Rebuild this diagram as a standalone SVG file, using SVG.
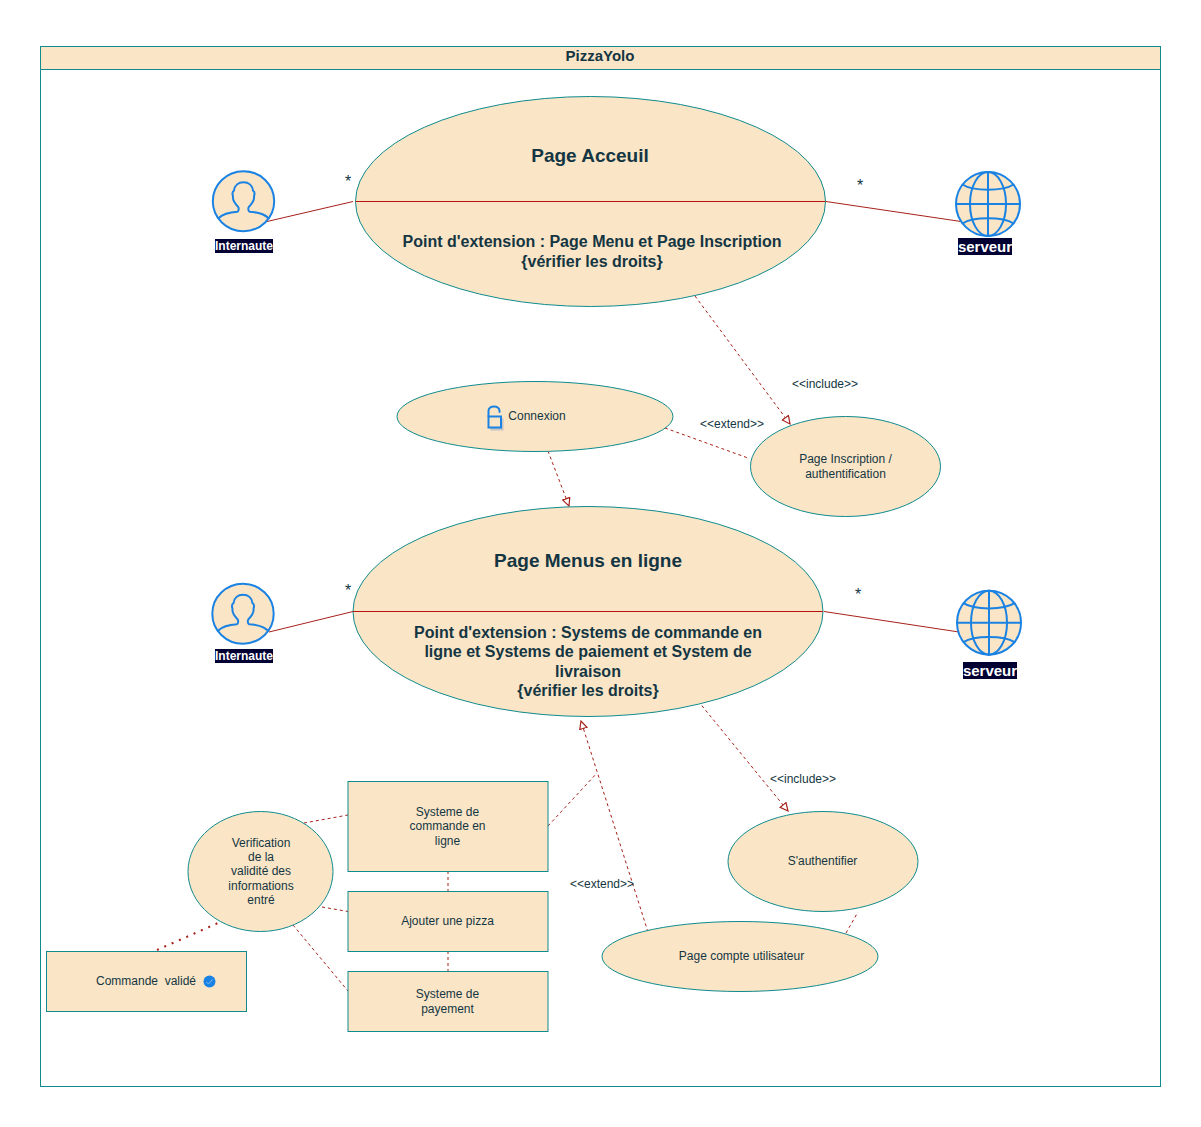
<svg xmlns="http://www.w3.org/2000/svg" width="1201" height="1127" viewBox="0 0 1201 1127">
<style>
text{font-family:"Liberation Sans",Arial,sans-serif;fill:#143642;text-anchor:middle}
.s{fill:#fae5c7;stroke:#0f8b8d;stroke-width:1}
.t{font-size:12px}
.h1{font-size:19px;font-weight:bold}
.h2{font-size:16px;font-weight:bold}
.c{fill:none;stroke:#a8201a;stroke-width:1}
.m{fill:none;stroke:#b8140f;stroke-width:1}
.d{stroke-dasharray:3 3}
.ic{fill:#fae5c7;stroke:#1a82e2;stroke-width:2;stroke-linecap:round;stroke-linejoin:round}
.in{fill:none;stroke:#1a82e2;stroke-width:2;stroke-linecap:round;stroke-linejoin:round}
.lb{fill:#000033}
.lt{fill:#fff;font-weight:bold}
</style>
<defs>
<marker id="a" markerWidth="11" markerHeight="10" refX="8.500" refY="4.500" orient="auto" markerUnits="userSpaceOnUse"><path d="M0.700 0.700L8.500 4.500L0.700 8.300Z" fill="#fff" stroke="#a8201a" stroke-width="1.200"/></marker>
<g id="user">
<ellipse cx="0" cy="0" rx="30.700" ry="30" class="ic"/>
<path class="in" d="M-25 17C-21 13-15 11-6 10.500C-4.500 9.500-4.500 6.500-5.500 5.500C-9 2-11-2-10.500-5C-11.500-8-10.500-10-9.500-10.500C-9-16-5-19 0-19C5-19 9-16 9.500-10.500C10.500-10 11.500-8 10.500-5C11-2 9 2 5.500 5.500C4.500 6.500 4.500 9.500 6 10.500C15 11 21 13 25 17"/>
</g>
<g id="globe">
<circle cx="0" cy="0" r="32" class="ic"/>
<path class="in" d="M0-32V32M-32 0H32"/>
<ellipse cx="0" cy="0" rx="18" ry="32" class="in"/>
<path class="in" d="M-25.500-19.500C-15-12.500 15-12.500 25.500-19.500M-25.500 19.500C-15 12.500 15 12.500 25.500 19.500"/>
</g>
</defs>
<g id="frame">
<rect x="40.500" y="46.500" width="1120" height="1040" fill="#fff" stroke="#0f8b8d"/>
<rect x="40.500" y="46.500" width="1120" height="23" class="s"/>
<text x="600" y="61" font-size="15" font-weight="bold">PizzaYolo</text>
</g>
<g id="connectors">
<path class="c" d="M267 221.500L353 201.500M826 201.500L961 221.500M269 632L353 611.500M824 611.500L959 632"/>
<path class="c d" d="M695 296L790 424" marker-end="url(#a)"/>
<path class="c d" d="M665 428L748 458"/>
<path class="c d" d="M548 451L569 506" marker-end="url(#a)"/>
<path class="c d" d="M698 701L788 811" marker-end="url(#a)"/>
<path class="c d" d="M648 932L581 721" marker-end="url(#a)"/>
<path class="c d" d="M548 826L597 773"/>
<path class="c d" d="M304 823L348 815"/>
<path class="c d" d="M322 907L348 911.500"/>
<path class="c d" d="M293 925L348 991"/>
<path class="c d" d="M448 871V891M448 951V971"/>
<path class="c d" d="M846 933L858 912"/>
<path d="M157 950L218 923" fill="none" stroke="#a8201a" stroke-width="2" stroke-dasharray="2 6"/>
</g>
<g id="page-acceuil">
<ellipse cx="590.500" cy="201.500" rx="235" ry="105" class="s"/>
<path d="M355.500 201.500H825.500" class="m"/>
<text x="590" y="162" class="h1">Page Acceuil</text>
<text x="592" y="247" class="h2">Point d'extension : Page Menu et Page Inscription</text>
<text x="592" y="267" class="h2">{vérifier les droits}</text>
</g>
<g id="internaute-1">
<use href="#user" x="243.500" y="201.200"/>
<rect x="215" y="239" width="58" height="14" class="lb"/>
<text x="244" y="250" class="t lt">Internaute</text>
</g>
<g id="serveur-1">
<use href="#globe" x="988" y="204"/>
<rect x="958" y="238" width="54" height="17" class="lb"/>
<text x="985" y="252" font-size="15" class="lt">serveur</text>
</g>
<g id="connexion">
<ellipse cx="535" cy="416.500" rx="138" ry="35" class="s"/>
<rect x="490.500" y="418.500" width="13" height="12" fill="#c4c4c4"/>
<rect x="488.500" y="416.500" width="12.500" height="11" fill="#fae5c7" stroke="#1a82e2" stroke-width="2"/>
<path d="M488.500 416V411C488.500 405 499.500 405 499.500 411V412" class="in"/>
<text x="537" y="420" class="t">Connexion</text>
</g>
<g id="inscription">
<ellipse cx="845.500" cy="466.500" rx="95" ry="50" class="s"/>
<text x="845.500" y="463" class="t">Page Inscription /</text>
<text x="845.500" y="478" class="t">authentification</text>
</g>
<g id="page-menus">
<ellipse cx="588" cy="611.500" rx="235" ry="105" class="s"/>
<path d="M353 611.500H823" class="m"/>
<text x="588" y="567" class="h1">Page Menus en ligne</text>
<text x="588" y="638" class="h2">Point d'extension : Systems de commande en</text>
<text x="588" y="657" class="h2">ligne et Systems de paiement et System de</text>
<text x="588" y="677" class="h2">livraison</text>
<text x="588" y="696" class="h2">{vérifier les droits}</text>
</g>
<g id="internaute-2">
<use href="#user" x="243" y="613.700"/>
<rect x="215" y="649" width="58" height="14" class="lb"/>
<text x="244" y="660" class="t lt">Internaute</text>
</g>
<g id="serveur-2">
<use href="#globe" x="989" y="622.700"/>
<rect x="963" y="662" width="54" height="17" class="lb"/>
<text x="990" y="676" font-size="15" class="lt">serveur</text>
</g>
<g id="commande">
<rect x="348" y="781.500" width="200" height="90" class="s"/>
<text x="447.500" y="816" class="t">Systeme de</text>
<text x="447.500" y="830" class="t">commande en</text>
<text x="447.500" y="845" class="t">ligne</text>
</g>
<g id="ajouter">
<rect x="348" y="891.500" width="200" height="60" class="s"/>
<text x="447.500" y="925" class="t">Ajouter une pizza</text>
</g>
<g id="payement">
<rect x="348" y="971.500" width="200" height="60" class="s"/>
<text x="447.500" y="998" class="t">Systeme de</text>
<text x="447.500" y="1013" class="t">payement</text>
</g>
<g id="verification">
<ellipse cx="260.500" cy="871.500" rx="72.500" ry="60" class="s"/>
<text x="261" y="847" class="t">Verification</text>
<text x="261" y="861" class="t">de la</text>
<text x="261" y="875" class="t">validité des</text>
<text x="261" y="890" class="t">informations</text>
<text x="261" y="904" class="t">entré</text>
</g>
<g id="valide">
<rect x="46.500" y="951.500" width="200" height="60" class="s"/>
<text x="146" y="985" class="t" xml:space="preserve">Commande  validé</text>
<circle cx="209.500" cy="981.500" r="6" fill="#1a82e2"/>
<path d="M206.500 982L208.500 984L212.500 979.500" fill="none" stroke="#7fb8ee" stroke-width="1"/>
</g>
<g id="authentifier">
<ellipse cx="823" cy="861.500" rx="95" ry="50" class="s"/>
<text x="822.500" y="865" class="t">S'authentifier</text>
</g>
<g id="compte">
<ellipse cx="740" cy="956.500" rx="138" ry="35" class="s"/>
<text x="741.500" y="960" class="t">Page compte utilisateur</text>
</g>
<g id="labels">
<text x="348" y="187" font-size="16">*</text>
<text x="860" y="191" font-size="16">*</text>
<text x="348" y="596" font-size="16">*</text>
<text x="858" y="600" font-size="16">*</text>
<text x="825" y="388" class="t">&lt;&lt;include&gt;&gt;</text>
<text x="732" y="428" class="t">&lt;&lt;extend&gt;&gt;</text>
<text x="803" y="783" class="t">&lt;&lt;include&gt;&gt;</text>
<text x="602" y="888" class="t">&lt;&lt;extend&gt;&gt;</text>
</g>
</svg>
